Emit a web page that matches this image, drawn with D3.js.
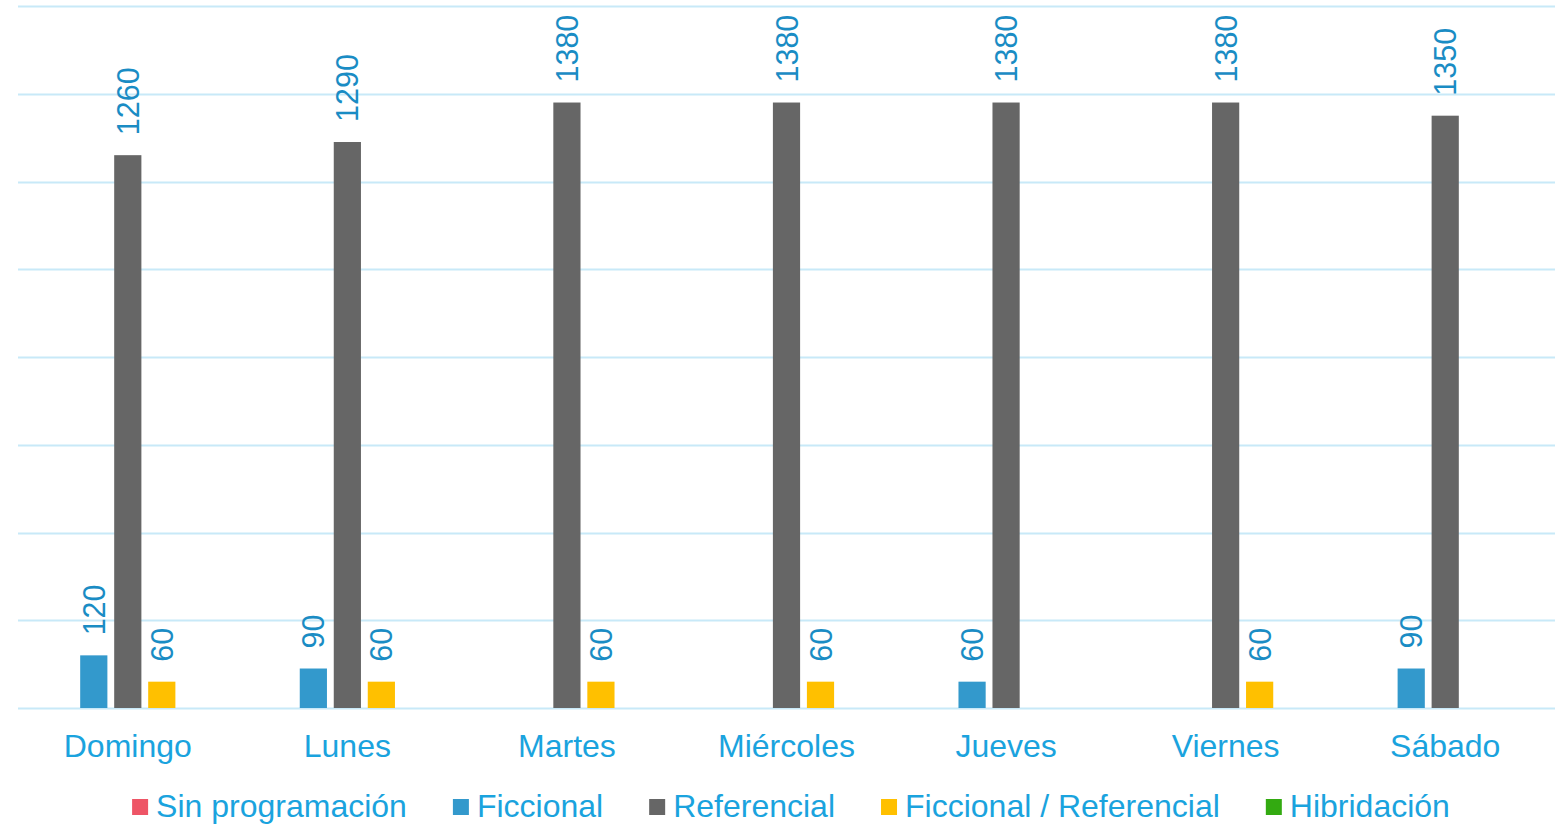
<!DOCTYPE html>
<html>
<head>
<meta charset="utf-8">
<script src="https://cdn.jsdelivr.net/npm/d3@7"></script>
<style>
  html, body { margin: 0; padding: 0; background: #ffffff; }
  svg { display: block; }
  svg text { font-family: Arial, "Liberation Sans", Helvetica, sans-serif; }
</style>
</head>
<body>
<svg id="chart" width="1556" height="825"></svg>
<script>
const categories = ["Domingo", "Lunes", "Martes", "Miércoles", "Jueves", "Viernes", "Sábado"];
const seriesNames = ["Sin programación", "Ficcional", "Referencial", "Ficcional / Referencial", "Hibridación"];
const sinProgramacion = [0, 0, 0, 0, 0, 0, 0];
const ficcional = [120, 90, 0, 0, 60, 0, 90];
const referencial = [1260, 1290, 1380, 1380, 1380, 1380, 1350];
const ficcionalReferencial = [60, 60, 60, 60, 0, 60, 0];
const hibridacion = [0, 0, 0, 0, 0, 0, 0];
const yTicks = [0, 200, 400, 600, 800, 1000, 1200, 1400, 1600];
const seriesColors = ["#ee5566", "#3399cc", "#666666", "#ffc000", "#33aa11"];

const seriesValues = [sinProgramacion, ficcional, referencial, ficcionalReferencial, hibridacion];

(function () {
const svg = d3.select("#chart");
const plotLeft = 18, plotRight = 1555, plotTop = 6, plotBottom = 708;
const FONT = "Arial, 'Liberation Sans', Helvetica, sans-serif";

const x0 = d3.scaleBand().domain(categories).range([plotLeft, plotRight]).paddingInner(0).paddingOuter(0);
const bw = x0.bandwidth();
const x1 = d3.scaleBand().domain(seriesNames).range([bw / 2 - 85, bw / 2 + 85]).paddingInner(0.2).paddingOuter(0.1);
const y = d3.scaleLinear().domain([0, 1600]).range([plotBottom, plotTop]);

// gridlines
svg.append("g").selectAll("line").data(yTicks).join("line")
  .attr("x1", plotLeft).attr("x2", plotRight)
  .attr("y1", d => Math.round(y(d)) + 0.5).attr("y2", d => Math.round(y(d)) + 0.5)
  .attr("stroke", "#c8e9f8").attr("stroke-width", 2);

// bars
const groups = svg.append("g").selectAll("g").data(categories).join("g")
  .attr("transform", d => `translate(${x0(d)},0)`);

groups.each(function(cat, ci) {
  const g = d3.select(this);
  seriesNames.forEach((s, si) => {
    const v = seriesValues[si][ci];
    if (v > 0) {
      g.append("rect")
        .attr("x", x1(s)).attr("width", x1.bandwidth())
        .attr("y", y(v)).attr("height", y(0) - y(v))
        .attr("fill", seriesColors[si]);
      const lx = x1(s) + x1.bandwidth() / 2 + 11;
      const ly = y(v) - 20;
      g.append("text")
        .attr("transform", `translate(${lx},${ly}) rotate(-90)`)
        .attr("font-family", FONT)
        .attr("font-size", 30.5)
        .attr("fill", "#1a8cc4")
        .text(v);
    }
  });
});

// category labels
svg.append("g").selectAll("text").data(categories).join("text")
  .attr("x", d => x0(d) + bw / 2)
  .attr("y", 757)
  .attr("text-anchor", "middle")
  .attr("font-family", FONT)
  .attr("font-size", 32)
  .attr("fill", "#1aa3de")
  .text(d => d);

// legend
const legend = svg.append("g");
const items = legend.selectAll("g").data(seriesNames).join("g");
items.append("rect").attr("width", 16).attr("height", 16).attr("y", 799)
  .attr("fill", (d, i) => seriesColors[i]);
items.append("text").attr("x", 24).attr("y", 817)
  .attr("font-family", FONT)
  .attr("font-size", 32).attr("fill", "#1aa3de").text(d => d);
let widths = [];
items.each(function() { widths.push(24 + d3.select(this).select("text").node().getComputedTextLength()); });
const gap = 46;
const total = d3.sum(widths) + gap * (widths.length - 1);
let cx = 791 - total / 2;
items.each(function(d, i) {
  d3.select(this).attr("transform", `translate(${cx},0)`);
  cx += widths[i] + gap;
});
})();
</script>
</body>
</html>
